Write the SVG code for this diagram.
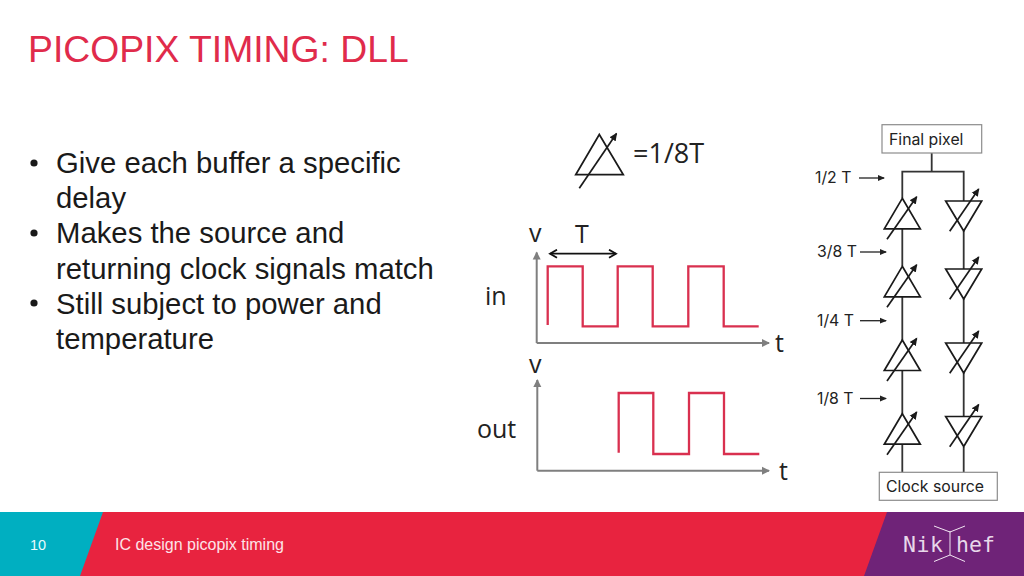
<svg xmlns="http://www.w3.org/2000/svg" width="1024" height="576" viewBox="0 0 1024 576">
<style>
text{font-family:"Liberation Sans",Arial,sans-serif}
.os{font-family:"Open Sans","Noto Sans",sans-serif;fill:#222}
.ins{font-family:"Inter","Open Sans",sans-serif;fill:#222}
.body{font-size:29.3px;fill:#1a1a1a}
.lbl{font-size:15.8px}
.wire{fill:none;stroke:#333;stroke-width:1.8}
.sym{fill:none;stroke:#1a1a1a;stroke-width:1.7}
.tick{fill:none;stroke:#222;stroke-width:1.3;marker-end:url(#ah)}
.ax{fill:none;stroke:#7f7f7f;stroke-width:2;marker-end:url(#ga)}
.wave{fill:none;stroke:#d9304f;stroke-width:2.3}
.box{fill:#fff;stroke:#8c8c8c;stroke-width:1.2}
.logo{fill:none;stroke:#f2e6f2;stroke-width:1}
</style>
<defs>
<marker id="ah" markerWidth="7" markerHeight="7" refX="6" refY="3.5" orient="auto" markerUnits="userSpaceOnUse"><path d="M0 .6L7 3.5L0 6.4z" fill="#222"/></marker>
<marker id="sa" markerWidth="9" markerHeight="9" refX="7" refY="4.5" orient="auto" markerUnits="userSpaceOnUse"><path d="M0 .8L8 4.5L0 8.2z" fill="#1a1a1a"/></marker>
<marker id="ga" markerWidth="9" markerHeight="9" refX="7" refY="4.5" orient="auto" markerUnits="userSpaceOnUse"><path d="M0 .5L8 4.5L0 8.5z" fill="#7f7f7f"/></marker>
<marker id="dbl" markerWidth="10" markerHeight="10" refX="8" refY="5" orient="auto-start-reverse" markerUnits="userSpaceOnUse"><path d="M1 1L8 5L1 9" fill="none" stroke="#111" stroke-width="1.8"/></marker>
<g id="bufU"><path class="sym" d="M0 0L18 30.5H-18Z"/><path class="sym" d="M-15.3 41L14.4 -1.6" marker-end="url(#sa)"/></g>
<g id="bufD"><path class="sym" d="M-18 0H18L0 30Z"/><path class="sym" d="M-14 30.3L15 -12" marker-end="url(#sa)"/></g>
</defs>
<rect width="1024" height="576" fill="#fff"/>
<g id="footer">
<rect y="512" width="1024" height="64" fill="#e8233f"/>
<path d="M0 512H103L80 576H0Z" fill="#00afc1"/>
<path d="M887 512H1024V576H864Z" fill="#6f2378"/>
<text x="30" y="550" font-size="14.5" fill="#e8fbfd">10</text>
<text x="115" y="550" font-size="16" fill="#fde3e8">IC design picopix timing</text>
<g id="logo">
<path class="logo" d="M950 531V555M934 526L950 532L965 526M934 561.5L950 555L965 561.5"/>
<text x="903" y="552" font-size="21.5" fill="#e8d8ea" style="font-family:'DejaVu Sans Mono',monospace" letter-spacing=".6">Nik</text>
<text x="956" y="552" font-size="21.5" fill="#e8d8ea" style="font-family:'DejaVu Sans Mono',monospace">hef</text>
</g>
</g>
<text id="title" x="28" y="62" font-size="37.3" fill="#e02b4b">PICOPIX TIMING: DLL</text>
<g id="bullets" class="body">
<circle cx="34" cy="163" r="3.6" fill="#1a1a1a"/><circle cx="34" cy="233" r="3.6" fill="#1a1a1a"/><circle cx="34" cy="303" r="3.6" fill="#1a1a1a"/>
<text x="56" y="172.5" class="body">Give each buffer a specific</text>
<text x="56" y="207.5" class="body">delay</text>
<text x="56" y="243" class="body">Makes the source and</text>
<text x="56" y="278.5" class="body">returning clock signals match</text>
<text x="56" y="313.5" class="body">Still subject to power and</text>
<text x="56" y="348.5" class="body">temperature</text>
</g>
<g id="legend">
<path class="sym" d="M599.3 134.5L623.3 174.7H575.7Z"/>
<path class="sym" d="M579.3 188.3L616.5 133.5" marker-end="url(#sa)"/>
<text x="633" y="163" font-size="27" class="os">=1/8T</text>
</g>
<g id="connectors">
<path class="wire" d="M931.7 153V171.7M902.3 198V171.7H963.7V201M902.3 229V266M902.3 297V340M902.3 371V414M902.3 444V472M963.7 231V269M963.7 299V343M963.7 373V416M963.7 447V472"/>
<path class="tick" d="M859 178H884"/>
<path class="tick" d="M860 252H886"/>
<path class="tick" d="M860 320.7H886"/>
<path class="tick" d="M860 398.5H886"/>
</g>
<g id="final-pixel"><rect class="box" x="882" y="124.7" width="99.7" height="28.3"/><text x="889" y="144.5" class="ins lbl">Final pixel</text></g>
<g id="clock-source"><rect class="box" x="879.3" y="472.3" width="118" height="28"/><text x="886" y="492" class="ins lbl">Clock source</text></g>
<g id="labels">
<text x="815" y="183" class="ins lbl">1/2 T</text>
<text x="817" y="257" class="ins lbl">3/8 T</text>
<text x="817" y="326" class="ins lbl">1/4 T</text>
<text x="817" y="404" class="ins lbl">1/8 T</text>
</g>
<g id="buffer-u1"><use href="#bufU" x="902.3" y="198.3"/></g>
<g id="buffer-u2"><use href="#bufU" x="902.3" y="266.3"/></g>
<g id="buffer-u3"><use href="#bufU" x="902.3" y="340"/></g>
<g id="buffer-u4"><use href="#bufU" x="902.3" y="413.7"/></g>
<g id="buffer-d1"><use href="#bufD" x="963.7" y="201"/></g>
<g id="buffer-d2"><use href="#bufD" x="963.7" y="269"/></g>
<g id="buffer-d3"><use href="#bufD" x="963.7" y="343"/></g>
<g id="buffer-d4"><use href="#bufD" x="963.7" y="416.5"/></g>
<g id="plot-in">
<path class="ax" d="M536.7 343V252.5"/>
<path class="ax" d="M536.7 343H769"/>
<path class="wave" d="M547.7 325V266.3H582.7V326.3H617.7V266.3H652.7V326.3H688.3V266.3H723.7V326.3H758.7"/>
<path d="M550 253.7H616" fill="none" stroke="#111" stroke-width="1.8" marker-start="url(#dbl)" marker-end="url(#dbl)"/>
<text x="529" y="242" font-size="25" class="os">v</text>
<text x="575" y="243" font-size="25" class="os">T</text>
<text x="485" y="305" font-size="25" class="os">in</text>
<text x="775" y="352" font-size="25" class="os">t</text>
</g>
<g id="plot-out">
<path class="ax" d="M537.3 470.7V380"/>
<path class="ax" d="M537.3 470.7H769"/>
<path class="wave" d="M618.7 452.7V393H653.3V454H689V393H724V454H759.3"/>
<text x="529" y="373" font-size="25" class="os">v</text>
<text x="477" y="438" font-size="25" class="os">out</text>
<text x="779" y="480" font-size="25" class="os">t</text>
</g>
</svg>
